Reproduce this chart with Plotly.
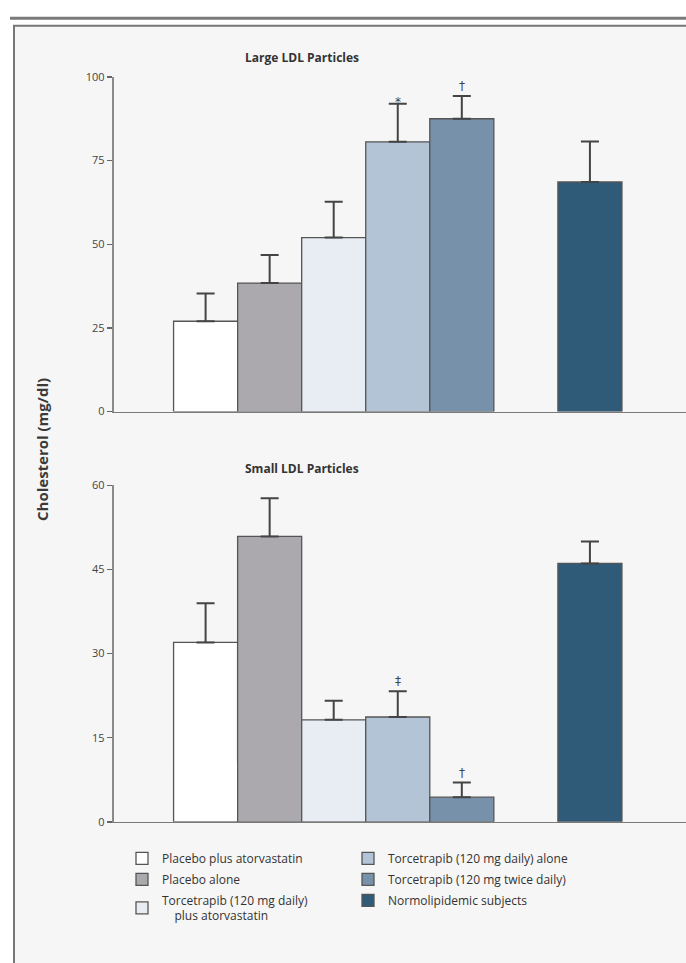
import plotly.graph_objects as go

# ---------------- data ----------------
groups = [
    "Placebo plus atorvastatin",
    "Placebo alone",
    "Torcetrapib (120 mg daily)<br>\u00a0\u00a0\u00a0\u00a0plus atorvastatin",
    "Torcetrapib (120 mg daily) alone",
    "Torcetrapib (120 mg twice daily)",
    "Normolipidemic subjects",
]
large_mean = [27.0, 38.4, 52.0, 80.6, 87.5, 68.6]
large_err = [8.3, 8.4, 10.7, 11.4, 6.8, 12.1]
small_mean = [32.0, 50.9, 18.2, 18.7, 4.4, 46.1]
small_err = [7.0, 6.8, 3.4, 4.6, 2.6, 3.9]
large_marks = ["", "", "", "*", "\u2020", ""]
small_marks = ["", "", "", "\u2021", "\u2020", ""]
large_ticks = [0, 25, 50, 75, 100]
small_ticks = [0, 15, 30, 45, 60]
panel_titles = ["Large LDL Particles", "Small LDL Particles"]
y_title = "Cholesterol (mg/dl)"

# ---------------- styling / layout ----------------
W, H = 686, 963
xpos = [0, 1, 2, 3, 4, 6]
colors = ["#ffffff", "#aba9ad", "#e8edf4", "#b2c4d6", "#7891aa", "#2f5b79"]
FONT = "Open Sans"


def py(p):
    return 1 - p / H


def px(p):
    return p / W


fig = go.Figure()

for i, g in enumerate(groups):
    leg = "legend" if i < 3 else "legend2"
    for panel, (means, errs) in enumerate([(large_mean, large_err), (small_mean, small_err)]):
        fig.add_trace(go.Bar(
            x=[xpos[i]], y=[means[i]],
            width=1,
            name=g,
            legendgroup=g,
            legend=leg,
            showlegend=(panel == 0),
            marker=dict(color=colors[i], line=dict(color="#555555", width=1.3)),
            error_y=dict(type="data", array=[errs[i]], arrayminus=[0], symmetric=False,
                         color="#444444", thickness=2, width=9),
            xaxis="x" if panel == 0 else "x2",
            yaxis="y" if panel == 0 else "y2",
            hoverinfo="skip",
        ))

axis_common_y = dict(
    showline=True, linecolor="#8a8a8a", linewidth=2.2,
    ticks="outside", ticklen=5, tickwidth=1.5, tickcolor="#666666",
    tickfont=dict(family=FONT, size=11, color="#444444"),
    showgrid=False, zeroline=False, fixedrange=True,
)
axis_common_x = dict(
    showline=True, linecolor="#7a7a7a", linewidth=1.6,
    showticklabels=False, ticks="", showgrid=False, zeroline=False,
    domain=[px(114), 1], range=[-1.43, 7.5], fixedrange=True,
)

legend_style = dict(yanchor="top", xanchor="left", bgcolor="rgba(0,0,0,0)",
                    font=dict(family=FONT, size=12, color="#333333"),
                    tracegroupgap=2, itemclick=False, itemdoubleclick=False)

fig.update_layout(
    width=W, height=H,
    margin=dict(l=0, r=0, t=0, b=0),
    paper_bgcolor="#ffffff",
    plot_bgcolor="rgba(0,0,0,0)",
    barmode="overlay",
    font=dict(family=FONT, color="#333333"),
    xaxis=dict(axis_common_x, anchor="y"),
    xaxis2=dict(axis_common_x, anchor="y2"),
    yaxis=dict(axis_common_y, domain=[py(410), py(70)], range=[0, 100],
               tickvals=large_ticks, anchor="x"),
    yaxis2=dict(axis_common_y, domain=[py(826.7), py(485)], range=[0, 60],
                tickvals=small_ticks, anchor="x2"),
    legend=dict(legend_style, x=px(122), y=py(849)),
    legend2=dict(legend_style, x=px(348), y=py(849)),
    showlegend=True,
)

# frame
fig.add_shape(type="rect", xref="paper", yref="paper",
              x0=px(14), x1=1.02, y0=-0.02, y1=py(18),
              fillcolor="#f6f6f6", line=dict(color="#777777", width=2), layer="below")
fig.add_shape(type="line", xref="paper", yref="paper",
              x0=px(10), x1=1.0, y0=py(10.5), y1=py(10.5),
              line=dict(color="#7a7a7a", width=3), layer="below")

# titles
for t, yy in zip(panel_titles, [50, 468]):
    fig.add_annotation(text="<b>" + t + "</b>", xref="paper", yref="paper",
                       x=px(302), y=py(yy), xanchor="center", yanchor="middle", showarrow=False,
                       font=dict(family=FONT, size=12, color="#333333"))
fig.add_annotation(text="<b>" + y_title + "</b>", xref="paper", yref="paper",
                   x=px(42), y=py(449), xanchor="center", yanchor="middle",
                   showarrow=False, textangle=-90,
                   font=dict(family=FONT, size=15, color="#3a3a3a"))

# significance marks
MARK_FONT = dict(family="DejaVu Sans", size=12, color="#444444")
for i, m in enumerate(large_marks):
    if m:
        fig.add_annotation(text=m, x=xpos[i], y=large_mean[i] + large_err[i], xref="x", yref="y",
                           showarrow=False, yanchor="bottom", yshift=(-7 if m == "*" else 1),
                           font=MARK_FONT)
for i, m in enumerate(small_marks):
    if m:
        fig.add_annotation(text=m, x=xpos[i], y=small_mean[i] + small_err[i], xref="x2", yref="y2",
                           showarrow=False, yanchor="bottom", yshift=1,
                           font=MARK_FONT)

fig.write_html("out.html", config={"displayModeBar": False, "staticPlot": True},
               post_script="document.body.style.margin='0px';")
